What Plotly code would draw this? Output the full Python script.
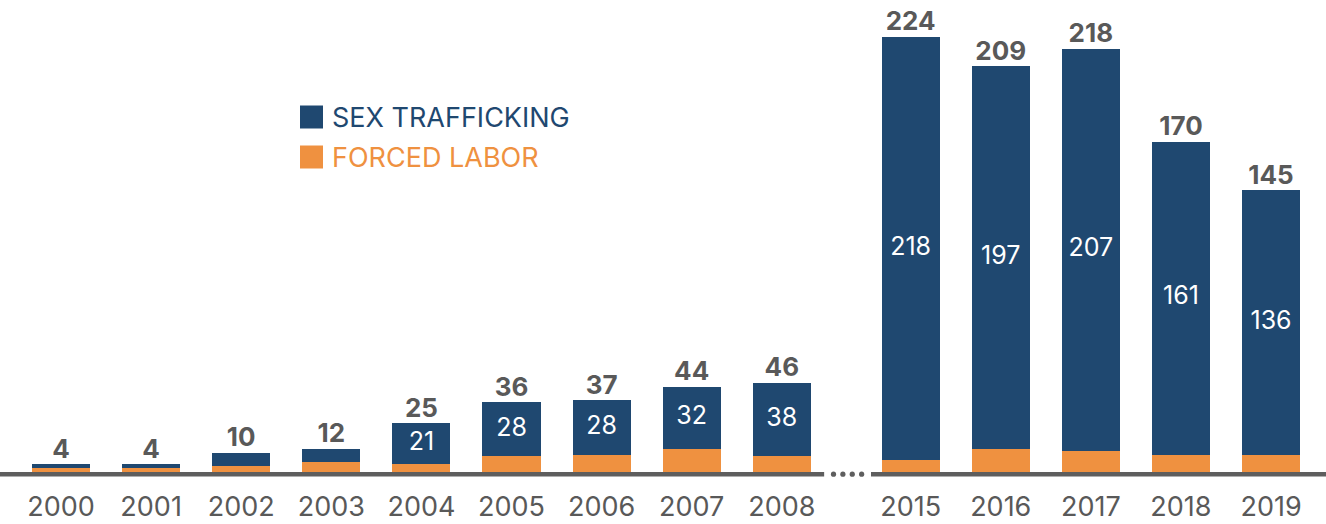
import plotly.graph_objects as go

years = ["2000", "2001", "2002", "2003", "2004", "2005", "2006", "2007", "2008",
         "2015", "2016", "2017", "2018", "2019"]
totals = [4, 4, 10, 12, 25, 36, 37, 44, 46, 224, 209, 218, 170, 145]
sex_trafficking = [2, 2, 7, 7, 21, 28, 28, 32, 38, 218, 197, 207, 161, 136]
show_inside = [False, False, False, False, True, True, True, True, True,
               True, True, True, True, True]
forced_labor = [t - s for t, s in zip(totals, sex_trafficking)]

NAVY = "#1f4870"
ORANGE = "#ef9140"
GRAY = "#595959"
LINE = "#5e5e5e"
FONT = "Inter"

W, H = 1326, 524
PLOT_H = 472
STEP = 90.1
FIRST = 61
GAP = 0.43  # extra space between the two periods
xpos = [i if i < 9 else i + GAP for i in range(len(years))]
XMIN = -FIRST / STEP
XMAX = (W - FIRST) / STEP
YMAX = PLOT_H / 1.942


def px(v):
    return (v - XMIN) / (XMAX - XMIN)


fig = go.Figure()
fig.add_trace(go.Bar(x=xpos, y=forced_labor, marker_color=ORANGE, width=0.644,
                     marker_line_width=0, name="FORCED LABOR", hoverinfo="skip"))
fig.add_trace(go.Bar(x=xpos, y=sex_trafficking, marker_color=NAVY, width=0.644,
                     marker_line_width=0, name="SEX TRAFFICKING", hoverinfo="skip"))

# inside labels
ix = [x for x, s in zip(xpos, show_inside) if s]
iy = [f + s / 2 for f, s, sh in zip(forced_labor, sex_trafficking, show_inside) if sh]
it = [str(s) for s, sh in zip(sex_trafficking, show_inside) if sh]
fig.add_trace(go.Scatter(x=ix, y=iy, text=it, mode="text", textposition="middle center",
                         textfont=dict(family=FONT, size=25, color="white"),
                         hoverinfo="skip", cliponaxis=False))
# totals
fig.add_trace(go.Scatter(x=xpos, y=totals, text=[str(t) for t in totals], mode="text",
                         textposition="top center",
                         textfont=dict(family=FONT, size=26, color=GRAY, weight="bold"),
                         hoverinfo="skip", cliponaxis=False))

# baseline segments and break dots (paper coords, just under the bars)
gap_start = xpos[8] + 0.47
gap_end = xpos[9] - 0.44
yb = -2.2 / PLOT_H
fig.add_shape(type="line", xref="paper", yref="paper", x0=0, x1=px(gap_start),
              y0=yb, y1=yb, line=dict(color=LINE, width=4.5))
fig.add_shape(type="line", xref="paper", yref="paper", x0=px(gap_end), x1=1,
              y0=yb, y1=yb, line=dict(color=LINE, width=4.5))
n_dots = 4
dstep = (gap_end - gap_start) / (n_dots + 1)
r = 2.6
for k in range(n_dots):
    cx = px(gap_start + dstep * (k + 1))
    fig.add_shape(type="circle", xref="paper", yref="paper",
                  x0=cx - r / W, x1=cx + r / W, y0=yb - r / PLOT_H, y1=yb + r / PLOT_H,
                  fillcolor=LINE, line_width=0)

# legend (manual)
legend_items = [("SEX TRAFFICKING", NAVY, 117), ("FORCED LABOR", ORANGE, 157)]
for label, col, ypx in legend_items:
    yp = 1 - ypx / PLOT_H
    fig.add_shape(type="rect", xref="paper", yref="paper",
                  x0=300 / W, x1=323 / W, y0=yp - 11.5 / PLOT_H, y1=yp + 11.5 / PLOT_H,
                  fillcolor=col, line_width=0)
    fig.add_annotation(xref="paper", yref="paper", x=330 / W, y=yp, text=label,
                       showarrow=False, xanchor="left", yanchor="middle",
                       font=dict(family=FONT, size=27, color=col))

fig.update_layout(
    width=W, height=H, barmode="stack", showlegend=False,
    margin=dict(l=0, r=0, t=0, b=H - PLOT_H, autoexpand=False),
    plot_bgcolor="white", paper_bgcolor="white",
    xaxis=dict(range=[XMIN, XMAX], tickvals=xpos, ticktext=years,
               showgrid=False, zeroline=False, showline=False, ticks="",
               automargin=False, ticklabelstandoff=16,
               tickfont=dict(family=FONT, size=27, color=GRAY)),
    yaxis=dict(range=[0, YMAX], visible=False, showgrid=False, zeroline=False),
    bargap=0,
)
fig.write_html("out.html", config={"displayModeBar": False},
               post_script="document.body.style.margin='0';document.body.style.overflow='hidden';")
